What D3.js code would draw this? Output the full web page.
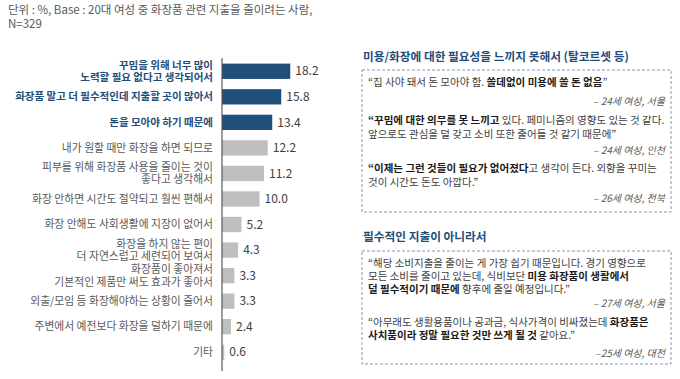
<!DOCTYPE html>
<html>
<head>
<meta charset="utf-8">
<script src="https://cdn.jsdelivr.net/npm/d3@7"></script>
<style>
  body { margin: 0; background: #fff; }
  svg { font-family: "Noto Sans CJK KR", "Noto Sans", sans-serif; }
</style>
</head>
<body>
<svg id="chart" width="680" height="379"></svg>
<script>
// data
const categories = [
  ['꾸밈을 위해 너무 많이', '노력할 필요 없다고 생각되어서'],
  ['화장품 말고 더 필수적인데 지출할 곳이 많아서'],
  ['돈을 모아야 하기 때문에'],
  ['내가 원할 때만 화장을 하면 되므로'],
  ['피부를 위해 화장품 사용을 줄이는 것이', '좋다고 생각해서'],
  ['화장 안하면 시간도 절약되고 훨씬 편해서'],
  ['화장 안해도 사회생활에 지장이 없어서'],
  ['화장을 하지 않는 편이', '더 자연스럽고 세련되어 보여서'],
  ['화장품이 좋아져서', '기본적인 제품만 써도 효과가 좋아서'],
  ['외출/모임 등 화장해야하는 상황이 줄어서'],
  ['주변에서 예전보다 화장을 덜하기 때문에'],
  ['기타']
]
const values = [18.2, 15.8, 13.4, 12.2, 11.2, 10.0, 5.2, 4.3, 3.3, 3.3, 2.4, 0.6]
const highlighted = [0, 1, 2]

const noteLines = ['단위 : %, Base : 20대 여성 중 화장품 관련 지출을 줄이려는 사람,', 'N=329']

// quotes: each line is a list of [text, bold]
const groups = [
  {
    title: '미용/화장에 대한 필요성을 느끼지 못해서 (탈코르셋 등)',
    quotes: [
      { lines: [[['“집 사야 돼서 돈 모아야 함. ', false], ['쓸데없이 미용에 쓸 돈 없음', true], ['”', false]]],
        who: '– 24세 여성, 서울' },
      { lines: [[['“꾸밈에 대한 의무를 못 느끼고', true], [' 있다. 페미니즘의 영향도 있는 것 같다.', false]],
                [['앞으로도 관심을 덜 갖고 소비 또한 줄어들 것 같기 때문에”', false]]],
        who: '– 24세 여성, 인천' },
      { lines: [[['“이제는 그런 것들이 필요가 없어졌다', true], ['고 생각이 든다. 외향을 꾸미는', false]],
                [['것이 시간도 돈도 아깝다.”', false]]],
        who: '– 26세 여성, 전북' }
    ]
  },
  {
    title: '필수적인 지출이 아니라서',
    quotes: [
      { lines: [[['“해당 소비지출을 줄이는 게 가장 쉽기 때문입니다. 경기 영향으로', false]],
                [['모든 소비를 줄이고 있는데, 식비보단 ', false], ['미용 화장품이 생활에서', true]],
                [['덜 필수적이기 때문에', true], [' 향후에 줄일 예정입니다.”', false]]],
        who: '– 27세 여성, 서울' },
      { lines: [[['“아무래도 생활용품이나 공과금, 식사가격이 비싸졌는데 ', false], ['화장품은', true]],
                [['사치품이라 정말 필요한 것만 쓰게 될 것', true], [' 같아요.”', false]]],
        who: '–25세 여성, 대전' }
    ]
  }
]

const blue = '#1f4e79'
const grey = '#bfbfbf'
const svg = d3.select('#chart')

// note at top
svg.append('g').selectAll('text')
  .data(noteLines)
  .enter().append('text')
    .attr('x', 8)
    .attr('y', (d, i) => 10 + i * 13.5)
    .attr('dy', '0.35em')
    .attr('font-size', 11.5)
    .attr('fill', '#595959')
    .text(d => d)

// bar chart
const x = d3.scaleLinear().domain([0, 20]).range([222, 297])
const y = d3.scaleBand()
  .domain(d3.range(values.length))
  .range([58.5, 365])
  .paddingInner(0.4)
  .paddingOuter(0.2)

const rows = svg.append('g').selectAll('g')
  .data(values)
  .enter().append('g')

rows.append('rect')
  .attr('x', x(0))
  .attr('y', (d, i) => y(i))
  .attr('width', d => x(d) - x(0))
  .attr('height', y.bandwidth())
  .attr('fill', (d, i) => highlighted.includes(i) ? blue : grey)

rows.append('text')
  .attr('x', d => x(d) + 5)
  .attr('y', (d, i) => y(i) + y.bandwidth() / 2)
  .attr('dy', '0.35em')
  .attr('font-size', 12)
  .attr('fill', '#404040')
  .text(d => d.toFixed(1))

rows.append('text')
  .attr('text-anchor', 'end')
  .attr('font-size', (d, i) => highlighted.includes(i) ? 10.5 : 10.8)
  .attr('font-weight', (d, i) => highlighted.includes(i) ? 'bold' : 'normal')
  .attr('fill', (d, i) => highlighted.includes(i) ? blue : '#595959')
  .each(function (d, i) {
    const lines = categories[i]
    const cy = y(i) + y.bandwidth() / 2
    const lh = 12.5
    d3.select(this).selectAll('tspan')
      .data(lines)
      .enter().append('tspan')
        .attr('x', 213)
        .attr('y', (l, j) => cy + (j - (lines.length - 1) / 2) * lh)
        .attr('dy', '0.35em')
        .text(l => l)
  })

svg.append('line')
  .attr('x1', x(0)).attr('x2', x(0))
  .attr('y1', 58).attr('y2', 371)
  .attr('stroke', '#595959')
  .attr('stroke-width', 1.2)

// quote panels
const boxes = [
  { titleY: 57, top: 70, bottom: 212, lineYs: [[82], [120, 134], [168, 182]], whoYs: [101, 150, 198] },
  { titleY: 237, top: 251, bottom: 364, lineYs: [[263, 276, 289], [322, 335]], whoYs: [303, 353] }
]
const boxLeft = 362, boxRight = 671

groups.forEach((g, gi) => {
  const b = boxes[gi]
  const panel = svg.append('g')

  panel.append('text')
    .attr('x', 363)
    .attr('y', b.titleY)
    .attr('dy', '0.35em')
    .attr('font-size', 11.7)
    .attr('font-weight', 'bold')
    .attr('fill', blue)
    .text(g.title)

  panel.append('rect')
    .attr('x', boxLeft)
    .attr('y', b.top)
    .attr('width', boxRight - boxLeft)
    .attr('height', b.bottom - b.top)
    .attr('fill', 'none')
    .attr('stroke', '#8497b0')
    .attr('stroke-dasharray', '3,2')

  g.quotes.forEach((q, qi) => {
    q.lines.forEach((segs, li) => {
      const t = panel.append('text')
        .attr('x', 368)
        .attr('y', b.lineYs[qi][li])
        .attr('dy', '0.35em')
        .attr('font-size', 10.5)
        .attr('fill', '#404040')
      t.selectAll('tspan')
        .data(segs)
        .enter().append('tspan')
          .attr('font-weight', s => s[1] ? 'bold' : 'normal')
          .attr('fill', s => s[1] ? '#1a1a1a' : '#404040')
          .text(s => s[0])
    })
    panel.append('text')
      .attr('x', 665)
      .attr('y', b.whoYs[qi])
      .attr('dy', '0.35em')
      .attr('text-anchor', 'end')
      .attr('font-size', 10)
      .attr('font-style', 'italic')
      .attr('fill', '#595959')
      .text(q.who)
  })
})
</script>
</body>
</html>
